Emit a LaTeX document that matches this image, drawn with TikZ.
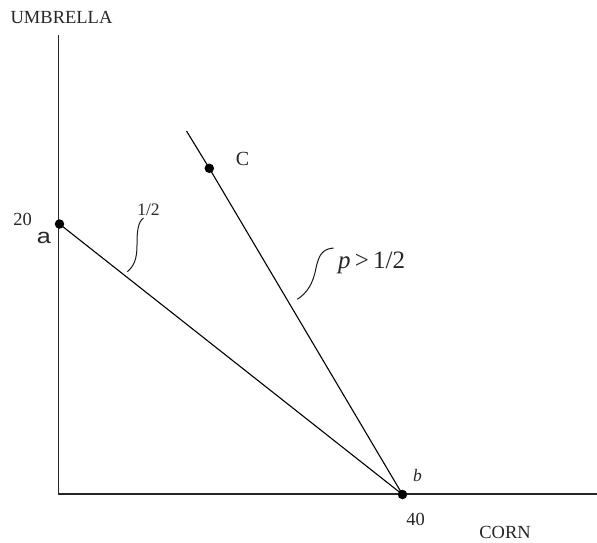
\documentclass[tikz,border=0pt]{standalone}
\usepackage{fontspec}
\setmainfont{Liberation Serif}
\newfontfamily\sansfam{Liberation Sans}
\begin{document}
\begin{tikzpicture}[x=1pt,y=-1pt,
  axis/.style={line width=1.3pt, draw=black!85},
  ln/.style={line width=1.1pt, draw=black},
  dot/.style={circle, fill=black, inner sep=0pt, minimum size=9.5pt},
  lbl/.style={font=\fontsize{18.5}{20}\selectfont, inner sep=0pt, anchor=base, text=black!85},
  lead/.style={line width=1pt, draw=black!90}]
\useasboundingbox (0,0) rectangle (597,542);
\coordinate (O) at (58.5,494);
\coordinate (ytop) at (58.5,35);
\coordinate (xend) at (597,494);
\draw[axis] (ytop) -- (O) -- (xend);
\node[dot] (a) at (59.5,224) {};
\node[dot] (b) at (402.5,494.5) {};
\node[dot] (c) at (209.3,168.3) {};
\coordinate (ctop) at (186.5,131);
\draw[ln] (a.center) -- (b.center);
\draw[ln] (ctop) -- (c.center) -- (b.center);
% labels
\node[lbl] (umb) at (61.5,23) {UMBRELLA};
\node[lbl] (corn) at (505,538) {CORN};
\node[lbl] (n20) at (22.5,225) {20};
\node[lbl] (n40) at (415.5,525) {40};
\node[lbl, font=\fontsize{21}{22}\sansfam] (la) at (44,243) {\scalebox{1.2}[1]{a}};
\node[lbl, font=\fontsize{17.5}{19}\selectfont] (lb) at (417.5,481) {\itshape b};
\node[lbl, font=\fontsize{20}{22}\selectfont] (lc) at (242.5,165.5) {C};
\node[lbl, font=\fontsize{17.5}{19}\selectfont] (half) at (148.5,215) {1/2};
\node[lbl, font=\fontsize{25}{26}\selectfont, anchor=base west] (pgt) at (338,268) {\textit{p}\,>\,1/2};
% leaders
\coordinate (s1) at (127.3,271.7);
\coordinate (s2) at (297.3,299.3);
\draw[lead] (s1) .. controls (134,266) and (137,259) .. (137,245)
  .. controls (137,231) and (138,222) .. (143.5,218);
\draw[lead] (s2) .. controls (307,293) and (313,284) .. (316,268)
  .. controls (319,254) and (323,249) .. (333.5,248);
\end{tikzpicture}
\end{document}
